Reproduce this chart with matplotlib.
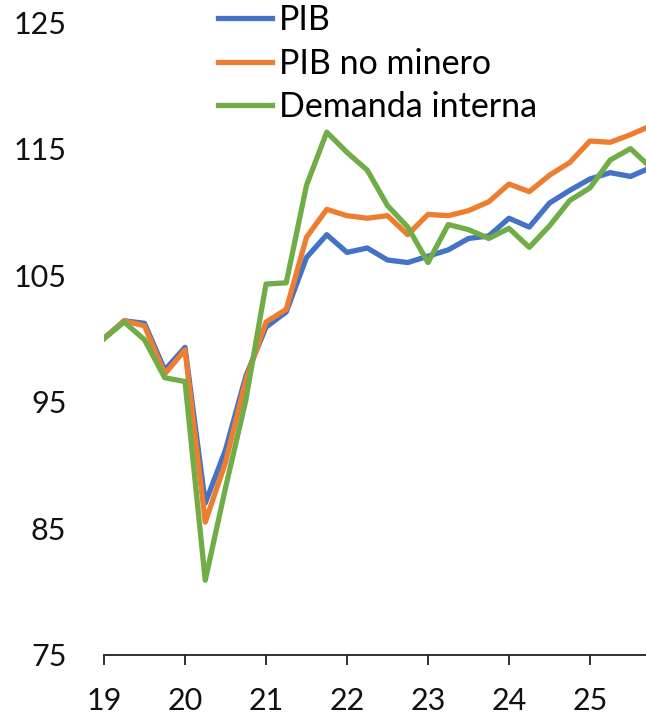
import matplotlib
matplotlib.use("Agg")
import matplotlib.pyplot as plt
import numpy as np

plt.rcParams['font.family'] = ['Lato', 'DejaVu Sans']

# quarterly index, 2019Q1 = 100
quarters = ['2019Q1', '2019Q2', '2019Q3', '2019Q4',
            '2020Q1', '2020Q2', '2020Q3', '2020Q4',
            '2021Q1', '2021Q2', '2021Q3', '2021Q4',
            '2022Q1', '2022Q2', '2022Q3', '2022Q4',
            '2023Q1', '2023Q2', '2023Q3', '2023Q4',
            '2024Q1', '2024Q2', '2024Q3', '2024Q4',
            '2025Q1', '2025Q2', '2025Q3', '2025Q4']
pib = [100.0, 101.4, 101.2, 97.5, 99.3, 87.0, 91.2, 97.0,
       100.9, 102.1, 106.4, 108.2, 106.8, 107.15, 106.2, 106.0,
       106.5, 107.0, 107.9, 108.1, 109.5, 108.8, 110.7, 111.7,
       112.6, 113.1, 112.8, 113.5]
pib_no_minero = [100.0, 101.4, 101.0, 97.2, 99.1, 85.5, 90.2, 96.7,
                 101.3, 102.3, 108.0, 110.2, 109.7, 109.5, 109.7, 108.2,
                 109.8, 109.7, 110.1, 110.8, 112.2, 111.6, 112.9, 113.9,
                 115.6, 115.5, 116.1, 116.8]
demanda = [100.0, 101.3, 99.9, 96.9, 96.6, 80.9, 88.2, 95.1,
           104.3, 104.4, 112.1, 116.3, 114.7, 113.3, 110.5, 108.8,
           106.0, 109.0, 108.6, 107.9, 108.7, 107.2, 108.9, 110.9,
           111.9, 114.1, 115.0, 113.5]
year_labels = ['19', '20', '21', '22', '23', '24', '25']

x = np.arange(len(quarters))

fig = plt.figure(figsize=(6.46, 7.18), dpi=100)
ax = fig.add_axes([104/646, 63/718, 542/646, 633/718])

ax.plot(x, pib, color='#4472C4', lw=3.8, label='PIB')
ax.plot(x, pib_no_minero, color='#ED7D31', lw=3.8, label='PIB no minero')
ax.plot(x, demanda, color='#70AD47', lw=3.8, label='Demanda interna')

ax.set_xlim(0, 542/20.25)
ax.set_ylim(75, 125)
ax.set_yticks([75, 85, 95, 105, 115, 125])
ax.set_xticks(x[::4])
ax.set_xticklabels(year_labels)

for s in ['top', 'right', 'left']:
    ax.spines[s].set_visible(False)
ax.spines['bottom'].set_linewidth(1.3)
ax.spines['bottom'].set_color('#222222')
ax.tick_params(axis='y', length=0, pad=27, labelsize=22, colors='#111111')
ax.tick_params(axis='x', length=7, width=1.3, direction='out', pad=16,
               labelsize=22, colors='#222222', labelcolor='#111111')

fig.legend(loc='upper left', bbox_to_anchor=(218/646, 0.994), frameon=False,
           fontsize=24.5, handlelength=1.6, handletextpad=0.18,
           labelspacing=0.33, borderpad=0, borderaxespad=0)

fig.savefig('out.png', dpi=100)
